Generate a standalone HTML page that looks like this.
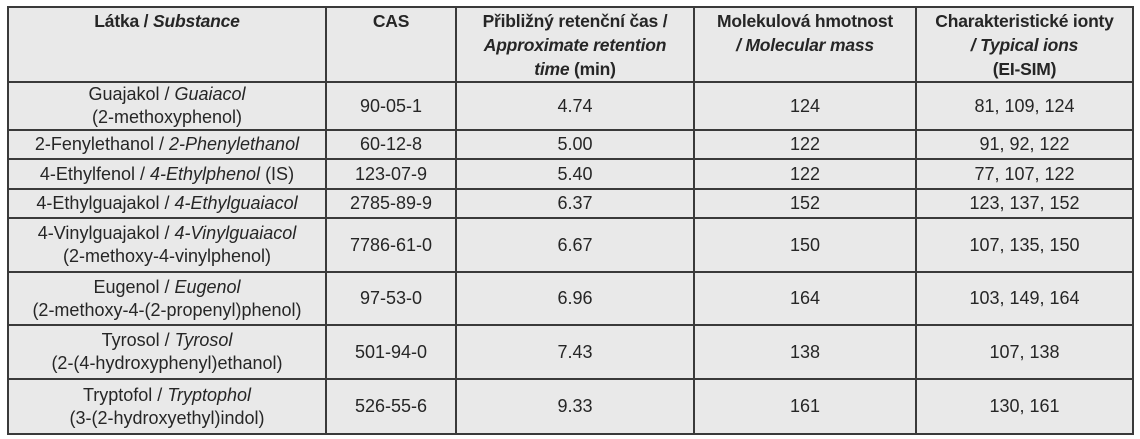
<!DOCTYPE html>
<html><head><meta charset="utf-8"><style>
html,body{margin:0;padding:0;background:#fff;width:1140px;height:439px;overflow:hidden}
table{position:absolute;left:7px;top:6px;border-collapse:collapse;table-layout:fixed;background:#e9e9e9;font-family:"Liberation Sans",Arial,sans-serif;font-size:18px;color:#262626}
td,th{border:2px solid #3a3a3a;text-align:center;vertical-align:middle;padding:0;line-height:23px;white-space:nowrap}
th{font-weight:bold;font-size:17.5px;line-height:24px;vertical-align:top;padding-top:1px;letter-spacing:-0.2px}
</style></head><body>
<table>
<colgroup><col style="width:318px"><col style="width:130px"><col style="width:238px"><col style="width:222px"><col style="width:217px"></colgroup>
<tr style="height:74px"><th>Látka / <i>Substance</i></th><th>CAS</th><th>Přibližný retenční čas /<br><i>Approximate retention</i><br><i>time</i> (min)</th><th>Molekulová hmotnost<br><i>/ Molecular mass</i></th><th>Charakteristické ionty<br><i>/ Typical ions</i><br>(EI-SIM)</th></tr>
<tr style="height:47px"><td>Guajakol / <i>Guaiacol</i><br>(2-methoxyphenol)</td><td>90-05-1</td><td>4.74</td><td>124</td><td>81, 109, 124</td></tr>
<tr style="height:29px"><td>2-Fenylethanol / <i>2-Phenylethanol</i></td><td>60-12-8</td><td>5.00</td><td>122</td><td>91, 92, 122</td></tr>
<tr style="height:30px"><td>4-Ethylfenol / <i>4-Ethylphenol</i> (IS)</td><td>123-07-9</td><td>5.40</td><td>122</td><td>77, 107, 122</td></tr>
<tr style="height:29px"><td>4-Ethylguajakol / <i>4-Ethylguaiacol</i></td><td>2785-89-9</td><td>6.37</td><td>152</td><td>123, 137, 152</td></tr>
<tr style="height:54px"><td>4-Vinylguajakol / <i>4-Vinylguaiacol</i><br>(2-methoxy-4-vinylphenol)</td><td>7786-61-0</td><td>6.67</td><td>150</td><td>107, 135, 150</td></tr>
<tr style="height:53px"><td>Eugenol / <i>Eugenol</i><br>(2-methoxy-4-(2-propenyl)phenol)</td><td>97-53-0</td><td>6.96</td><td>164</td><td>103, 149, 164</td></tr>
<tr style="height:54px"><td>Tyrosol / <i>Tyrosol</i><br>(2-(4-hydroxyphenyl)ethanol)</td><td>501-94-0</td><td>7.43</td><td>138</td><td>107, 138</td></tr>
<tr style="height:55px"><td>Tryptofol / <i>Tryptophol</i><br>(3-(2-hydroxyethyl)indol)</td><td>526-55-6</td><td>9.33</td><td>161</td><td>130, 161</td></tr>
</table>
</body></html>
